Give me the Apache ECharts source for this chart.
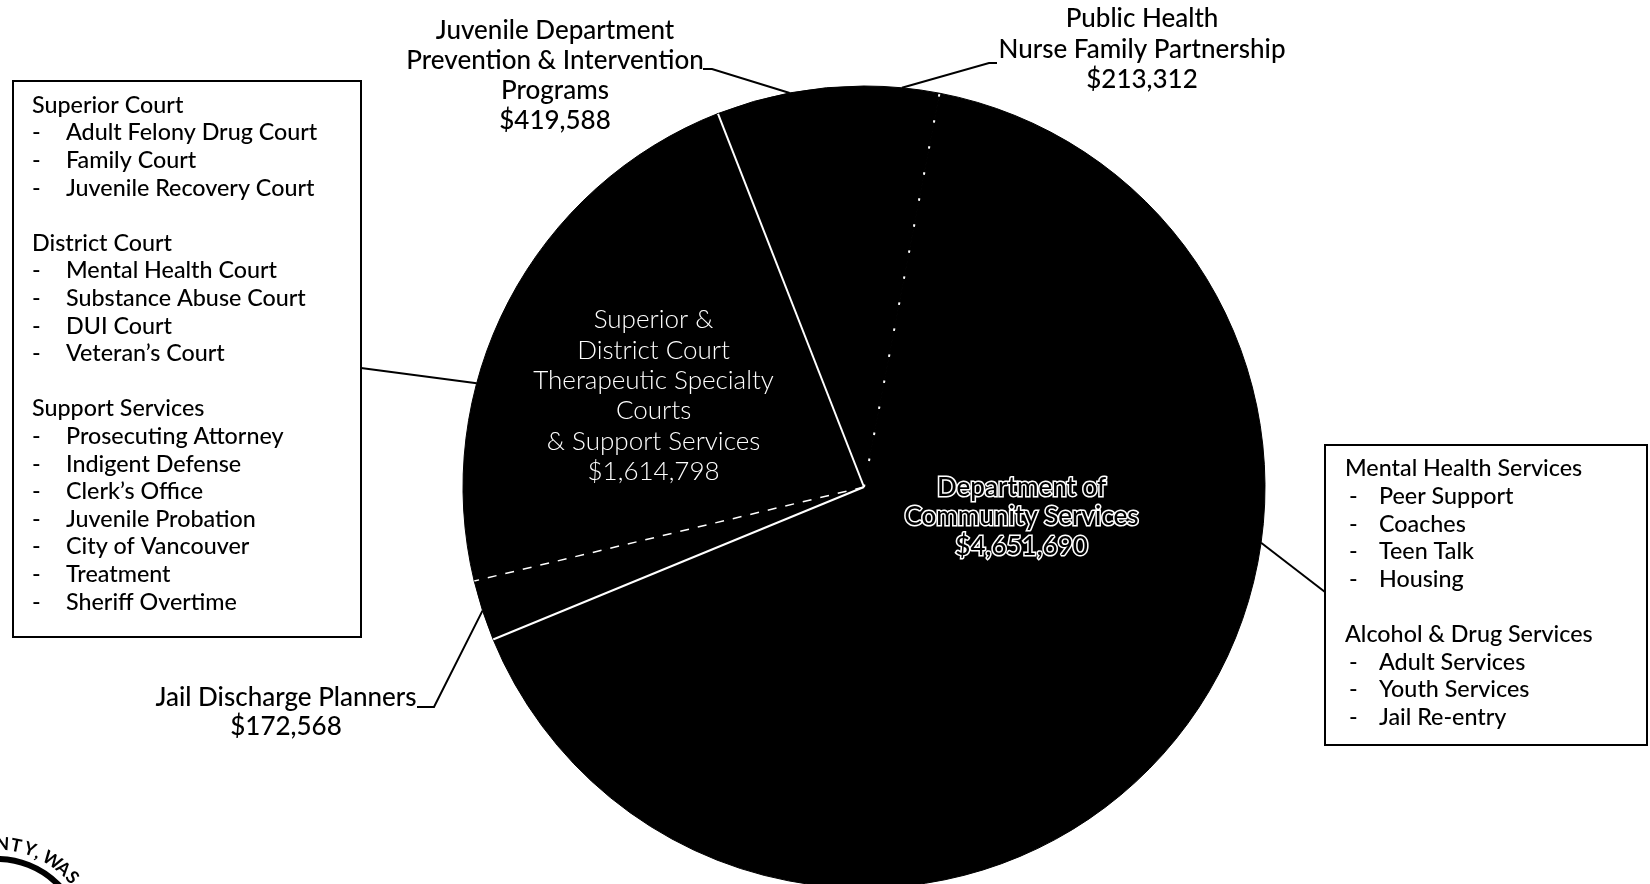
<!DOCTYPE html>
<html><head><meta charset="utf-8">
<script src="https://cdn.jsdelivr.net/npm/echarts@6/dist/echarts.min.js"></script>
<style>html,body{margin:0;padding:0;background:#fff;}#c{width:1650px;height:884px;}</style>
</head><body><div id="c"></div>
<script>
// ---------- data ----------
const categories = [
  'Public Health\nNurse Family Partnership',
  'Department of\nCommunity Services',
  'Jail Discharge Planners',
  'Superior &\nDistrict Court\nTherapeutic Specialty\nCourts\n& Support Services',
  'Juvenile Department\nPrevention & Intervention\nPrograms'
];
const values = [213312, 4651690, 172568, 1614798, 419588];
// boundary after each slice (clockwise): dotted, solid, dashed, solid, none
const boundaryKinds = ['dotted', 'solid', 'dashed', 'solid', 'none'];

const superiorCourtItems = ['Adult Felony Drug Court', 'Family Court', 'Juvenile Recovery Court'];
const districtCourtItems = ['Mental Health Court', 'Substance Abuse Court', 'DUI Court', 'Veteran\u2019s Court'];
const supportServicesItems = ['Prosecuting Attorney', 'Indigent Defense', 'Clerk\u2019s Office', 'Juvenile Probation', 'City of Vancouver', 'Treatment', 'Sheriff Overtime'];
const mentalHealthItems = ['Peer Support', 'Coaches', 'Teen Talk', 'Housing'];
const alcoholDrugItems = ['Adult Services', 'Youth Services', 'Jail Re-entry'];
const leftBoxGroups = [['Superior Court', superiorCourtItems], ['District Court', districtCourtItems], ['Support Services', supportServicesItems]];
const rightBoxGroups = [['Mental Health Services', mentalHealthItems], ['Alcohol & Drug Services', alcoholDrugItems]];

// ---------- layout ----------
const CX = 864, CY = 487, R = 401;
const FONT = 'Lato, "Open Sans", sans-serif';
const OUT_FONT = '500 26px ' + FONT;

const total = values.reduce((a, b) => a + b, 0);
const cum = []; let acc = 0; values.forEach(v => { acc += v; cum.push(acc); });
const money = v => '$' + v.toLocaleString('en-US');
const midAngle = i => (cum[i] - values[i] / 2) / total * 360;
const edgePt = deg => { const a = deg * Math.PI / 180; return [CX + R * Math.sin(a), CY - R * Math.cos(a)]; };

const lineStyles = {
  dotted: { type: [2.5, 24], width: 2 },
  solid: { type: 'solid', width: 2 },
  dashed: { type: [9, 9], width: 1.5 }
};

const boundarySeries = [];
boundaryKinds.forEach((k, i) => {
  if (k === 'none') return;
  boundarySeries.push({
    type: 'line', coordinateSystem: 'polar', silent: true, z: 5,
    symbol: 'none', animation: false,
    data: [[0, cum[i]], [1, cum[i]]],
    lineStyle: Object.assign({ color: '#fff', cap: 'butt' }, lineStyles[k])
  });
});

function boxText(groups) {
  const lines = [];
  groups.forEach((g, gi) => {
    if (gi > 0) lines.push('');
    lines.push('{h|' + g[0] + '}');
    g[1].forEach(it => lines.push('{d|-}{t|' + it + '}'));
  });
  return lines.join('\n');
}

const chart = echarts.init(document.getElementById('c'));
const BOX_FONT = '500 23.3px ' + FONT, BOX_LH = 27.6;
const richBox = (dashPad) => ({
  h: { font: BOX_FONT, fill: '#000', lineHeight: BOX_LH },
  d: { font: BOX_FONT, fill: '#000', lineHeight: BOX_LH, width: 34 - dashPad, padding: [0, 0, 0, dashPad] },
  t: { font: BOX_FONT, fill: '#000', lineHeight: BOX_LH }
});

// seal letters
const sealChars = 'COUNTY, WAS';
const sealAngles = [-22, -14, -5, 3, 11, 19, 24, 28, 33, 41, 48];
const sealEls = [{ type: 'circle', shape: { cx: -3, cy: 945, r: 86 }, style: { fill: 'none', stroke: '#000', lineWidth: 6 } }];
sealChars.split('').forEach((ch, i) => {
  const a = sealAngles[i] * Math.PI / 180;
  sealEls.push({
    type: 'text', x: -3 + 101 * Math.sin(a), y: 945 - 101 * Math.cos(a), rotation: -a,
    style: { text: ch, font: 'bold 18px ' + FONT, fill: '#000', align: 'center', verticalAlign: 'middle' }
  });
});

const leader = (pts) => ({ type: 'polyline', shape: { points: pts }, style: { stroke: '#000', lineWidth: 2, fill: 'none' }, silent: true });

const option = {
  backgroundColor: '#fff',
  animation: false,
  polar: { center: [CX, CY], radius: [0, R] },
  angleAxis: { type: 'value', min: 0, max: total, startAngle: 90, clockwise: true, show: false },
  radiusAxis: { type: 'value', min: 0, max: 1, show: false },
  series: [{
    type: 'pie', center: [CX, CY], radius: R, startAngle: 90, clockwise: true, silent: true,
    itemStyle: { color: '#000', borderColor: '#000', borderWidth: 1 },
    label: { show: false }, labelLine: { show: false },
    emphasis: { disabled: true },
    labelLayout: p => p.dataIndex === 1 ? { dx: 0, dy: -99 } : (p.dataIndex === 3 ? { dx: -30, dy: 3 } : {}),
    data: values.map((v, i) => {
      const d = { name: categories[i], value: v };
      if (i === 3) d.label = { show: true, position: 'inside', formatter: '{b}\n' + money(v), color: '#fff', fontFamily: FONT, fontWeight: 300, fontSize: 26, lineHeight: 30.4, align: 'center' };
      if (i === 1) d.label = { show: true, position: 'inside', formatter: '{b}\n' + money(v), color: '#000', textBorderColor: '#fff', textBorderWidth: 3, fontFamily: FONT, fontWeight: 500, fontSize: 26, lineHeight: 29.5, align: 'center' };
      return d;
    })
  }].concat(boundarySeries),
  graphic: [
    // outside labels
    { type: 'text', x: 555, y: 15.4, style: { text: categories[4] + '\n' + money(values[4]), font: OUT_FONT, fill: '#000', align: 'center', verticalAlign: 'top', lineHeight: 30.2 } },
    { type: 'text', x: 1142, y: 3.8, style: { text: categories[0] + '\n' + money(values[0]), font: OUT_FONT, fill: '#000', align: 'center', verticalAlign: 'top', lineHeight: 30.5 } },
    { type: 'text', x: 286, y: 683.5, style: { text: categories[2] + '\n' + money(values[2]), font: OUT_FONT, fill: '#000', align: 'center', verticalAlign: 'top', lineHeight: 29 } },
    leader([[703, 69], [712, 69], edgePt(midAngle(4))]),
    leader([[997, 63], [989, 63], edgePt(midAngle(0))]),
    leader([[417, 707], [434, 707], edgePt(midAngle(2))]),
    leader([[361, 368], edgePt(285)]),
    leader([edgePt(98), [1325, 592]]),
    // boxes
    { type: 'rect', shape: { x: 13, y: 81, width: 348, height: 556 }, style: { fill: 'none', stroke: '#000', lineWidth: 2 } },
    { type: 'text', x: 32, y: 91.4, style: { text: boxText(leftBoxGroups), rich: richBox(0), verticalAlign: 'top', align: 'left', font: BOX_FONT, lineHeight: BOX_LH } },
    { type: 'rect', shape: { x: 1325, y: 445, width: 322, height: 300 }, style: { fill: 'none', stroke: '#000', lineWidth: 2 } },
    { type: 'text', x: 1345, y: 455, style: { text: boxText(rightBoxGroups), rich: richBox(4), verticalAlign: 'top', align: 'left', font: BOX_FONT, lineHeight: BOX_LH } },
    { type: 'group', children: sealEls, silent: true }
  ]
};
chart.setOption(option);
</script>
</body></html>
